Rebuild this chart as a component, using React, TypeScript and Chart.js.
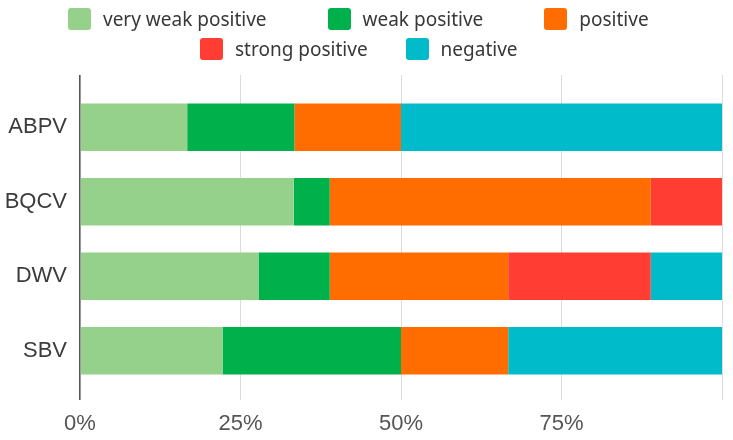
import React, { useEffect, useRef } from "react";
import { Chart, registerables } from "chart.js";

Chart.register(...registerables);

const viruses = ["ABPV", "BQCV", "DWV", "SBV"];
const seriesNames = ["very weak positive", "weak positive", "positive", "strong positive", "negative"];
const seriesColors = ["#95d18a", "#00b04b", "#ff6d00", "#ff3d33", "#00bcca"];

// share of samples (%) per virus
const veryWeakPositive = [16.7, 33.3, 27.8, 22.2];
const weakPositive = [16.7, 5.6, 11.1, 27.8];
const positive = [16.6, 50, 27.8, 16.7];
const strongPositive = [0, 11.1, 22.2, 0];
const negative = [50, 0, 11.1, 33.3];
const seriesValues = [veryWeakPositive, weakPositive, positive, strongPositive, negative];

const tickLabels = ["0%", "25%", "50%", "75%", ""];

// legend is laid out in two rows like the original
const legendRows = [
  { items: [0, 1, 2], left: 68, gap: 61 },
  { items: [3, 4], left: 200, gap: 38 },
];

const gridColor = (ctx: any) => (ctx.tick && ctx.tick.value === 0 ? "#555" : "#dcdcdc");
const gridWidth = (ctx: any) => (ctx.tick && ctx.tick.value === 0 ? 1.6 : 1);

export default function App() {
  const canvasRef = useRef<HTMLCanvasElement>(null);

  useEffect(() => {
    if (!canvasRef.current) return;

    const chart = new Chart(canvasRef.current, {
      type: "bar",
      data: {
        labels: viruses,
        datasets: seriesNames.map((name, i) => ({
          label: name,
          data: seriesValues[i],
          backgroundColor: seriesColors[i],
          borderWidth: 0,
          barPercentage: 0.8,
          categoryPercentage: 0.8,
          xAxisID: "x",
        })),
      },
      options: {
        indexAxis: "y",
        responsive: false,
        animation: false,
        layout: { padding: { top: 75, right: 9, left: 0, bottom: 0 } },
        plugins: {
          legend: { display: false },
          tooltip: { enabled: false },
        },
        scales: {
          x: {
            stacked: true,
            min: 0,
            max: 100,
            position: "bottom",
            ticks: {
              stepSize: 25,
              padding: 11,
              color: "#555",
              font: { size: 22, family: "Liberation Sans, Arial, sans-serif" },
              callback: (_v: any, i: number) => tickLabels[i],
            },
            grid: { color: gridColor, lineWidth: gridWidth, tickLength: 12 },
            border: { display: false },
            afterFit: (s: any) => {
              s.height = 52;
            },
          },
          x2: {
            type: "linear",
            min: 0,
            max: 100,
            position: "top",
            ticks: { display: false, stepSize: 25 },
            grid: { color: gridColor, lineWidth: gridWidth, tickLength: 15, drawOnChartArea: false },
            border: { display: false },
          },
          y: {
            stacked: true,
            ticks: {
              padding: 13,
              color: "#3c3c3c",
              font: { size: 22, family: "Liberation Sans, Arial, sans-serif" },
            },
            grid: { display: false, drawTicks: false },
            border: { display: false },
            afterFit: (s: any) => {
              s.width = 80;
            },
          },
        },
      },
    });

    return () => {
      chart.destroy();
    };
  }, []);

  return (
    <div style={{ position: "fixed", left: 0, top: 0, width: 733, height: 440, background: "#fff" }}>
      <canvas ref={canvasRef} width={733} height={440} style={{ position: "absolute", left: 0, top: 0 }} />
      <div style={{ position: "absolute", left: 0, top: 7.5, width: 733 }}>
        {legendRows.map((row, r) => (
          <div
            key={r}
            style={{
              display: "flex",
              alignItems: "center",
              gap: row.gap,
              marginLeft: row.left,
              height: 22,
              marginBottom: 8,
            }}
          >
            {row.items.map((idx) => (
              <div key={idx} style={{ display: "flex", alignItems: "center", gap: 12 }}>
                <span
                  style={{
                    display: "inline-block",
                    width: 23,
                    height: 22,
                    borderRadius: 3,
                    background: seriesColors[idx],
                  }}
                />
                <span
                  style={{
                    fontFamily: "'Noto Sans', sans-serif",
                    fontSize: 19,
                    color: "#383838",
                    whiteSpace: "nowrap",
                    lineHeight: "22px",
                  }}
                >
                  {seriesNames[idx]}
                </span>
              </div>
            ))}
          </div>
        ))}
      </div>
    </div>
  );
}
